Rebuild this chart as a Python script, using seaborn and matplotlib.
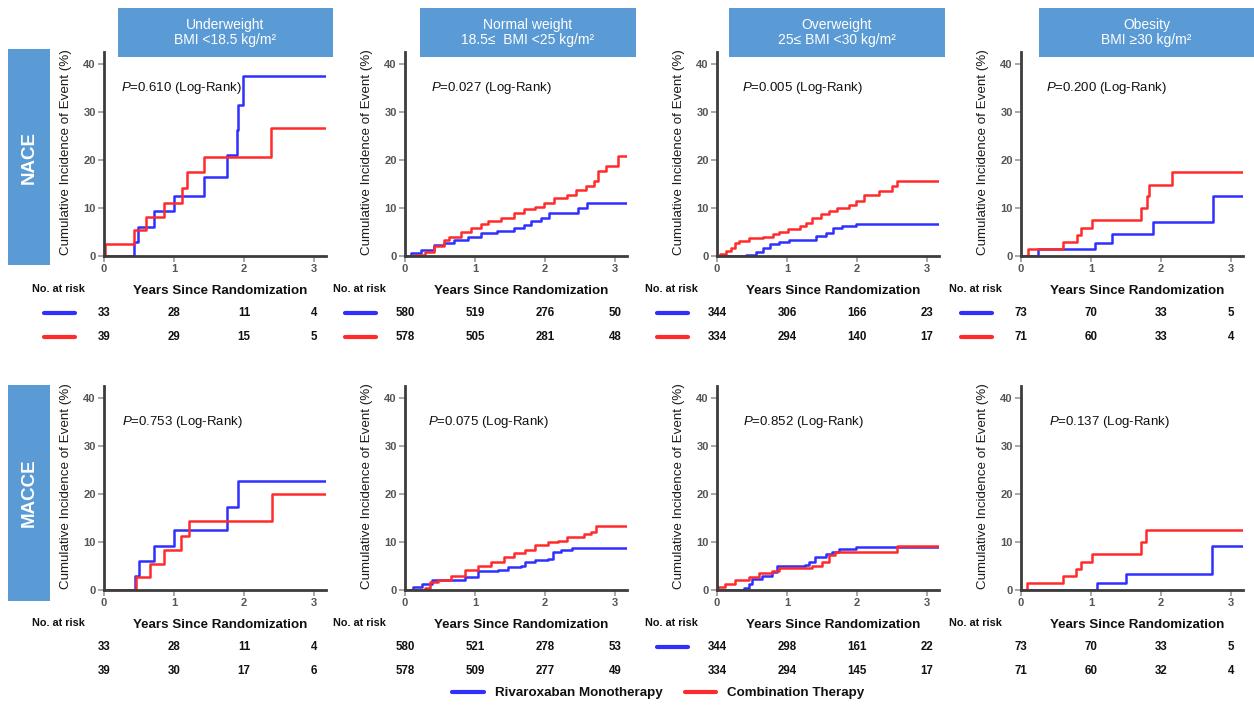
import numpy as np
import pandas as pd
import matplotlib
matplotlib.use("Agg")
import matplotlib.pyplot as plt
import seaborn as sns
from matplotlib.patches import Rectangle
from matplotlib.lines import Line2D
from matplotlib.transforms import blended_transform_factory

# ---------------- data ----------------
groups = ["Underweight\nBMI <18.5 kg/m²",
          "Normal weight\n18.5≤  BMI <25 kg/m²",
          "Overweight\n25≤ BMI <30 kg/m²",
          "Obesity\nBMI ≥30 kg/m²"]
outcomes = ["NACE", "MACCE"]
arms = ["Rivaroxaban Monotherapy", "Combination Therapy"]
x_ticks = [0, 1, 2, 3]
y_ticks = [0, 10, 20, 30, 40]
follow_up_end = 3.17

nace_p = ["0.610", "0.027", "0.005", "0.200"]
macce_p = ["0.753", "0.075", "0.852", "0.137"]

# numbers at risk at years 0,1,2,3
nace_risk_riva = [[33, 28, 11, 4], [580, 519, 276, 50], [344, 306, 166, 23], [73, 70, 33, 5]]
nace_risk_comb = [[39, 29, 15, 5], [578, 505, 281, 48], [334, 294, 140, 17], [71, 60, 33, 4]]
macce_risk_riva = [[33, 28, 11, 4], [580, 521, 278, 53], [344, 298, 161, 22], [73, 70, 33, 5]]
macce_risk_comb = [[39, 30, 17, 6], [578, 509, 277, 49], [334, 294, 145, 17], [71, 60, 32, 4]]

# NACE cumulative incidence step points (time in years, %)
nace_uw_riva_t = [0.43, 0.48, 0.71, 1.0, 1.43, 1.75, 1.9, 1.92, 1.99]
nace_uw_riva_y = [2.9, 6.1, 9.3, 12.4, 16.5, 21.0, 26.2, 31.5, 37.4]
nace_uw_comb_t = [0.01, 0.43, 0.6, 0.85, 1.11, 1.18, 1.43, 2.39]
nace_uw_comb_y = [2.6, 5.5, 8.2, 11.1, 14.1, 17.4, 20.7, 26.7]

nace_nw_riva_t = [0.09, 0.23, 0.42, 0.56, 0.7, 0.9, 1.09, 1.32, 1.56, 1.7, 1.8, 1.94, 2.06, 2.47, 2.6]
nace_nw_riva_y = [0.6, 1.3, 2.3, 2.7, 3.4, 4.0, 4.8, 5.2, 5.8, 6.5, 7.3, 8.0, 9.0, 10.1, 11.0]
nace_nw_comb_t = [0.13, 0.28, 0.42, 0.56, 0.63, 0.8, 0.94, 1.09, 1.18, 1.37, 1.56, 1.7, 1.85, 1.99,
                  2.13, 2.32, 2.44, 2.59, 2.7, 2.75, 2.87, 3.04]
nace_nw_comb_y = [0.2, 0.9, 2.0, 3.4, 4.0, 5.0, 5.8, 6.6, 7.3, 8.0, 9.0, 9.8, 10.3, 11.0,
                  12.1, 12.8, 13.8, 14.5, 15.6, 17.7, 18.8, 20.8]

nace_ow_riva_t = [0.42, 0.56, 0.65, 0.75, 0.89, 1.03, 1.41, 1.55, 1.65, 1.79, 1.98]
nace_ow_riva_y = [0.3, 0.8, 1.7, 2.4, 2.9, 3.4, 4.1, 4.8, 5.8, 6.3, 6.7]
nace_ow_comb_t = [0.04, 0.13, 0.2, 0.25, 0.32, 0.46, 0.65, 0.8, 0.89, 1.01, 1.18, 1.27, 1.36, 1.48,
                  1.6, 1.72, 1.89, 1.98, 2.1, 2.31, 2.5, 2.57]
nace_ow_comb_y = [0.4, 1.0, 1.7, 2.7, 3.2, 3.75, 4.0, 4.6, 5.1, 5.7, 6.2, 6.9, 7.9, 8.75,
                  9.3, 10.0, 10.7, 11.4, 12.8, 13.5, 14.5, 15.7]

nace_ob_riva_t = [0.24, 1.06, 1.3, 1.88, 2.74]
nace_ob_riva_y = [1.4, 2.8, 4.5, 7.0, 12.4]
nace_ob_comb_t = [0.1, 0.6, 0.8, 0.85, 1.02, 1.71, 1.8, 1.83, 2.15]
nace_ob_comb_y = [1.5, 2.9, 4.4, 5.9, 7.4, 10.0, 12.5, 14.8, 17.6]

# MACCE cumulative incidence step points
macce_uw_riva_t = [0.44, 0.5, 0.72, 1.0, 1.75, 1.92]
macce_uw_riva_y = [3.0, 6.1, 9.2, 12.4, 17.3, 22.8]
macce_uw_comb_t = [0.46, 0.65, 0.86, 1.1, 1.22, 2.4]
macce_uw_comb_y = [2.7, 5.5, 8.4, 11.3, 14.4, 20.1]

macce_nw_riva_t = [0.12, 0.24, 0.38, 0.85, 1.04, 1.33, 1.47, 1.66, 1.71, 1.85, 2.04, 2.11, 2.23, 2.39]
macce_nw_riva_y = [0.6, 1.3, 2.0, 2.8, 3.9, 4.2, 4.8, 5.1, 5.8, 6.3, 6.5, 7.9, 8.3, 8.8]
macce_nw_comb_t = [0.28, 0.36, 0.47, 0.66, 0.85, 1.04, 1.23, 1.42, 1.56, 1.71, 1.85, 2.04, 2.18,
                   2.32, 2.56, 2.65, 2.73]
macce_nw_comb_y = [0.4, 1.6, 2.1, 3.0, 4.1, 5.1, 5.9, 6.9, 7.7, 8.4, 9.3, 9.9, 10.3,
                   11.0, 11.7, 12.1, 13.4]

macce_ow_riva_t = [0.38, 0.45, 0.5, 0.64, 0.79, 0.86, 1.26, 1.31, 1.4, 1.55, 1.64, 1.74, 1.98]
macce_ow_riva_y = [0.5, 1.3, 2.3, 3.0, 3.7, 5.1, 5.2, 5.8, 6.9, 7.6, 7.9, 8.6, 9.0]
macce_ow_comb_t = [0.02, 0.12, 0.26, 0.45, 0.6, 0.79, 0.88, 1.36, 1.5, 1.6, 1.69, 2.57]
macce_ow_comb_y = [0.6, 1.3, 2.0, 2.8, 3.5, 3.9, 4.6, 5.1, 5.8, 7.2, 7.9, 9.2]

macce_ob_riva_t = [1.08, 1.5, 2.73]
macce_ob_riva_y = [1.5, 3.3, 9.1]
macce_ob_comb_t = [0.08, 0.6, 0.79, 0.85, 1.02, 1.71, 1.78]
macce_ob_comb_y = [1.5, 2.9, 4.4, 5.9, 7.4, 10.0, 12.5]

curves = {
    ("NACE", 0): (nace_uw_riva_t, nace_uw_riva_y, nace_uw_comb_t, nace_uw_comb_y),
    ("NACE", 1): (nace_nw_riva_t, nace_nw_riva_y, nace_nw_comb_t, nace_nw_comb_y),
    ("NACE", 2): (nace_ow_riva_t, nace_ow_riva_y, nace_ow_comb_t, nace_ow_comb_y),
    ("NACE", 3): (nace_ob_riva_t, nace_ob_riva_y, nace_ob_comb_t, nace_ob_comb_y),
    ("MACCE", 0): (macce_uw_riva_t, macce_uw_riva_y, macce_uw_comb_t, macce_uw_comb_y),
    ("MACCE", 1): (macce_nw_riva_t, macce_nw_riva_y, macce_nw_comb_t, macce_nw_comb_y),
    ("MACCE", 2): (macce_ow_riva_t, macce_ow_riva_y, macce_ow_comb_t, macce_ow_comb_y),
    ("MACCE", 3): (macce_ob_riva_t, macce_ob_riva_y, macce_ob_comb_t, macce_ob_comb_y),
}
p_values = {"NACE": nace_p, "MACCE": macce_p}
risk_riva = {"NACE": nace_risk_riva, "MACCE": macce_risk_riva}
risk_comb = {"NACE": nace_risk_comb, "MACCE": macce_risk_comb}

# ---------------- style ----------------
sns.set_style("ticks")
plt.rcParams["font.family"] = ["Liberation Sans", "DejaVu Sans"]
plt.rcParams["mathtext.fontset"] = "custom"
plt.rcParams["mathtext.rm"] = "Liberation Sans"
plt.rcParams["mathtext.it"] = "Liberation Sans:italic"

BLUE = "#2f2fff"
RED = "#ff2b2b"
BOX = "#5b9bd5"
W, H = 1254, 707

fig = plt.figure(figsize=(W / 100, H / 100), dpi=100)
fig.patch.set_facecolor("white")


def fx(px):
    return px / W


def fy(py):
    return 1 - py / H


col_x0 = [104, 405, 717, 1021]
row_y0 = {"NACE": 256, "MACCE": 590}
ax_w, ax_h = 222, 204
header_boxes = [(118, 215), (420, 216), (729, 216), (1039, 215)]
row_boxes = {"NACE": (49, 216), "MACCE": (385, 216)}
p_x = {"NACE": [0.24, 0.37, 0.36, 0.35], "MACCE": [0.25, 0.33, 0.37, 0.40]}
p_y = 35


def km_frame(t_r, y_r, t_c, y_c):
    rows = []
    for arm, t, y in ((arms[0], t_r, y_r), (arms[1], t_c, y_c)):
        tt = [0.0] + list(t) + [follow_up_end]
        yy = [0.0] + list(y) + [y[-1]]
        for a, b in zip(tt, yy):
            rows.append({"time": a, "cum": b, "arm": arm})
    return pd.DataFrame(rows)


# header boxes
for (x0, w), g in zip(header_boxes, groups):
    fig.patches.append(Rectangle((fx(x0), fy(57)), w / W, 49 / H, transform=fig.transFigure,
                                 facecolor=BOX, edgecolor="none"))
    fig.text(fx(x0 + w / 2), fy(32.5), g, color="white", ha="center", va="center",
             fontsize=10, linespacing=1.15)

for outcome in outcomes:
    ytop, hgt = row_boxes[outcome]
    fig.patches.append(Rectangle((fx(8), fy(ytop + hgt)), 42 / W, hgt / H, transform=fig.transFigure,
                                 facecolor=BOX, edgecolor="none"))
    fig.text(fx(29), fy(ytop + hgt / 2), outcome, color="white", rotation=90, ha="center",
             va="center", fontsize=13.5, fontweight="bold")

    y0 = row_y0[outcome]
    for j in range(4):
        x0 = col_x0[j]
        ax = fig.add_axes([fx(x0), fy(y0), ax_w / W, ax_h / H])
        df = km_frame(*curves[(outcome, j)])
        sns.lineplot(data=df, x="time", y="cum", hue="arm", hue_order=arms,
                     palette=[BLUE, RED], estimator=None, sort=False,
                     drawstyle="steps-post", linewidth=1.8, legend=False, ax=ax)
        ax.set_xlim(0, follow_up_end)
        ax.set_ylim(0, 42.5)
        ax.set_xticks(x_ticks)
        ax.set_yticks(y_ticks)
        ax.set_xlabel("")
        ax.set_ylabel("")
        sns.despine(ax=ax)
        for s in ("left", "bottom"):
            ax.spines[s].set_color("#3c3c3c")
            ax.spines[s].set_linewidth(2)
        ax.tick_params(axis="both", length=4, width=1.2, color="#9a9a9a",
                       labelsize=8, labelcolor="#555555", pad=2)
        for lbl in ax.get_xticklabels() + ax.get_yticklabels():
            lbl.set_fontweight("bold")
        ax.patch.set_alpha(0)

        ax.text(p_x[outcome][j], p_y, r"$\mathit{P}$=" + p_values[outcome][j] + " (Log-Rank)",
                fontsize=9.5, color="#111111", ha="left", va="center")

        # axis labels
        fig.text(fx(x0 - 38), fy(y0 - ax_h / 2 - 2), "Cumulative Incidence of Event (%)",
                 rotation=90, ha="center", va="center", fontsize=9.6, color="#1a1a1a")
        fig.text(fx(x0 + 116), fy(y0 + 35), "Years Since Randomization", ha="center",
                 va="center", fontsize=9.6, fontweight="bold", color="#111111")
        fig.text(fx(x0 - 72), fy(y0 + 33), "No. at risk", ha="left", va="center",
                 fontsize=7.8, fontweight="bold", color="#111111")

        # numbers at risk
        tr = blended_transform_factory(ax.transData, fig.transFigure)
        for k, xt in enumerate(x_ticks):
            ax.text(xt, fy(y0 + 57), str(risk_riva[outcome][j][k]), transform=tr,
                    ha="center", va="center", fontsize=8.3, fontweight="bold",
                    color="#111111", clip_on=False)
            ax.text(xt, fy(y0 + 81), str(risk_comb[outcome][j][k]), transform=tr,
                    ha="center", va="center", fontsize=8.3, fontweight="bold",
                    color="#111111", clip_on=False)

        show_blue = outcome == "NACE" or j == 2
        show_red = outcome == "NACE"
        if show_blue:
            fig.lines.append(Line2D([fx(x0 - 60), fx(x0 - 29)], [fy(y0 + 57)] * 2,
                                    transform=fig.transFigure, color=BLUE, linewidth=3))
        if show_red:
            fig.lines.append(Line2D([fx(x0 - 60), fx(x0 - 29)], [fy(y0 + 81)] * 2,
                                    transform=fig.transFigure, color=RED, linewidth=3))

# bottom legend
fig.lines.append(Line2D([fx(452), fx(484)], [fy(692)] * 2, transform=fig.transFigure,
                        color=BLUE, linewidth=3))
fig.text(fx(495), fy(693), arms[0], ha="left", va="center", fontsize=9.6,
         fontweight="bold", color="#111111")
fig.lines.append(Line2D([fx(685), fx(716)], [fy(692)] * 2, transform=fig.transFigure,
                        color=RED, linewidth=3))
fig.text(fx(727), fy(693), arms[1], ha="left", va="center", fontsize=9.6,
         fontweight="bold", color="#111111")

fig.savefig("out.png", dpi=100, facecolor="white")
